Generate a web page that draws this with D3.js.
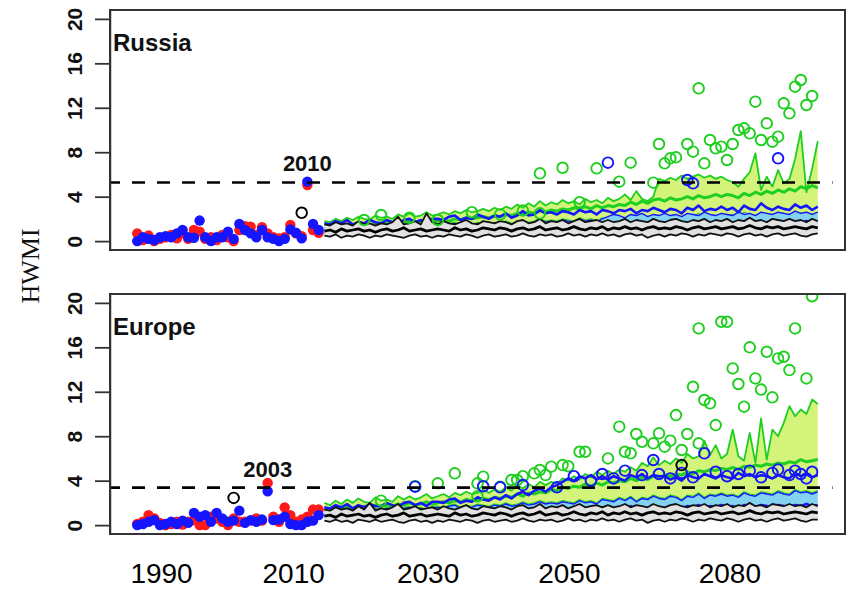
<!DOCTYPE html>
<html>
<head>
<meta charset="utf-8">
<script src="https://cdn.jsdelivr.net/npm/d3@7"></script>
<style>
  body { margin: 0; background: #fff; }
  text { font-family: "Liberation Sans", Arial, sans-serif; }
  text.ytitle { font-family: "Liberation Serif", "Times New Roman", serif; }
</style>
</head>
<body>
<svg id="chart" width="850" height="589"></svg>
<script>
// ---------------- years ----------------
const obsYears = d3.range(1980, 2013);   // reanalysis period
const projYears = d3.range(2013, 2101);  // model projections

// ---------------- x-axis labels ----------------
const xTickLabels = ["1990", "2010", "2030", "2050", "2080"];
const xTickYears  = [1984.2, 2007.5, 2031.2, 2056.1, 2084.4];
const yTickValues = [0, 4, 8, 12, 16, 20];

// ================= RUSSIA =================
const ruObsRed  = [0.7,0.1,0.5,0,0.2,0.35,0.55,0.25,0.7,0.2,
                   1.0,0.85,0.2,0.35,0.1,0.55,0.35,0,1.0,1.35,
                   1.3,0.55,1.25,0.7,0.35,0.25,0.35,1.45,0.7,0.45,
                   5.05,1.0,0.75];
const ruObsBlue = [0,0.35,0.2,0.1,0.35,0.45,0.35,0.7,1.0,0.35,
                   0.3,1.85,0.35,0,0.35,0.35,0.85,0.2,1.55,1.0,
                   0.7,0.35,1.0,0.35,0.2,0,0.2,1.05,0.75,0.25,
                   5.35,1.55,1.0];
const ruEvent = 5.28;

const ruGrayLo = [0.5,0.4,0.6,0.3,0.5,0.4,0.6,0.5,0.3,0.5,
                  0.4,0.6,0.5,0.4,0.3,0.5,0.6,0.4,0.5,0.3,
                  0.5,0.4,0.6,0.5,0.4,0.6,0.5,0.3,0.5,0.6,
                  0.4,0.5,0.6,0.4,0.5,0.7,0.5,0.4,0.6,0.5,
                  0.6,0.4,0.5,0.7,0.5,0.6,0.4,0.6,0.5,0.7,
                  0.5,0.6,0.4,0.6,0.7,0.5,0.6,0.3,0.5,0.6,
                  0.4,0.6,0.5,0.7,0.6,0.4,0.6,0.5,0.7,0.6,
                  0.5,0.7,0.6,0.4,0.6,0.7,0.5,0.6,0.4,0.6,
                  0.7,0.5,0.6,0.7,0.5,0.4,0.6,0.7];
const ruGrayMed = [0.9,1.0,0.8,1.1,0.9,1.0,1.1,0.9,1.0,0.8,
                   1.0,1.1,0.9,1.0,1.2,0.9,1.0,1.1,0.9,1.0,
                   1.1,1.0,0.9,1.2,1.0,1.1,0.9,1.0,1.2,1.1,
                   1.0,1.2,1.1,0.9,1.1,1.2,1.0,1.1,1.3,1.0,
                   1.1,1.2,1.0,1.1,1.3,1.1,1.0,1.2,1.1,1.3,
                   1.0,1.2,1.1,1.3,1.1,1.2,1.0,1.2,1.3,1.1,
                   1.2,1.1,1.3,1.2,1.0,1.2,1.3,1.1,1.2,1.3,
                   1.1,1.2,1.3,1.1,1.2,1.4,1.2,1.1,1.3,1.2,
                   1.3,1.1,1.2,1.3,1.2,1.1,1.3,1.2];
const ruGrayHi = [1.5,1.4,1.7,1.5,1.6,1.4,1.8,1.5,1.6,1.4,
                  1.6,1.5,1.7,2.2,1.5,1.6,1.8,1.5,2.5,1.7,
                  1.5,1.8,1.6,1.5,1.7,1.9,1.6,1.5,1.8,1.7,
                  1.6,1.8,1.7,1.5,1.8,1.9,1.6,1.7,2.0,1.6,
                  1.8,1.7,1.9,1.6,1.8,2.0,1.7,1.8,1.9,1.7,
                  1.9,1.7,1.8,2.0,1.7,1.9,1.8,1.7,2.0,1.8,
                  1.7,1.9,2.0,1.8,1.7,1.9,1.8,2.0,1.7,1.9,
                  1.8,2.0,1.7,1.9,1.8,2.1,1.8,1.9,1.7,2.0,
                  1.9,1.8,2.0,1.8,1.9,1.7,2.0,1.8];
const ruBlueLo = [0.8,0.7,0.9,0.8,1.0,0.7,0.9,0.8,1.0,0.9,
                  0.8,1.0,0.9,0.8,1.0,1.1,0.9,1.0,0.8,1.0,
                  1.1,0.9,1.0,1.2,1.0,1.1,0.9,1.2,1.1,1.0,
                  1.2,1.1,1.3,1.0,1.2,1.3,1.1,1.2,1.4,1.2,
                  1.3,1.2,1.4,1.3,1.2,1.5,1.3,1.4,1.2,1.5,
                  1.4,1.3,1.5,1.4,1.6,1.3,1.5,1.4,1.6,1.5,
                  1.4,1.6,1.5,1.3,1.6,1.5,1.7,1.4,1.6,1.5,
                  1.7,1.5,1.6,1.4,1.7,1.6,1.5,1.7,1.6,1.5,
                  1.7,1.6,1.5,1.7,1.6,1.8,1.6,1.7];
const ruBlueMed = [1.1,1.0,1.2,1.1,1.3,1.0,1.2,1.1,1.3,1.2,
                   1.1,1.3,1.2,1.1,1.3,1.4,1.2,1.3,1.1,1.4,
                   1.4,1.3,1.5,1.6,1.3,1.5,1.4,1.6,1.5,1.4,
                   1.6,1.5,1.7,1.5,1.6,1.8,1.6,1.7,1.9,1.7,
                   1.8,1.7,1.9,1.8,1.7,2.0,1.8,1.9,1.7,2.0,
                   2.2,2.4,2.3,2.1,2.4,2.3,2.5,2.2,2.4,2.3,
                   2.5,2.3,2.4,2.2,2.5,2.4,2.3,2.6,2.4,2.3,
                   2.5,2.4,2.3,2.6,2.4,2.5,2.3,2.6,2.5,2.4,
                   2.6,2.5,2.4,2.7,2.5,2.6,2.4,2.6];
const ruBlueHi = [1.6,1.5,1.8,1.6,1.9,1.5,1.7,1.6,1.9,1.7,
                  1.6,1.9,1.7,1.6,1.9,2.0,1.7,1.9,1.6,2.0,
                  2.0,1.9,2.2,2.3,1.9,2.1,2.0,2.4,2.2,2.0,
                  2.3,2.2,2.5,2.1,2.3,2.7,2.3,2.4,2.8,2.5,
                  2.6,2.4,2.7,2.6,2.4,2.8,2.6,2.7,2.4,2.8,
                  2.7,2.5,2.8,2.7,2.9,2.5,2.8,2.7,3.0,2.8,
                  2.6,2.9,2.8,2.5,3.0,2.8,3.2,2.7,2.9,2.8,
                  3.1,2.8,3.0,2.6,3.2,2.9,2.8,3.4,3.0,2.8,
                  3.1,2.9,2.8,3.3,3.0,3.2,2.8,3.1];
const ruGreenLo = [1.2,1.1,1.3,1.2,1.4,1.1,1.3,1.2,1.4,1.3,
                   1.2,1.4,1.3,1.2,1.4,1.5,1.3,1.4,1.2,1.5,
                   1.5,1.4,1.6,1.7,1.4,1.6,1.5,1.7,1.6,1.5,
                   1.7,1.6,1.8,1.6,1.7,1.9,1.7,1.8,2.0,1.8,
                   1.9,1.8,2.0,1.9,1.8,2.1,1.9,2.0,1.8,2.1,
                   2.0,1.9,2.1,2.0,2.2,1.9,2.1,2.0,2.3,2.2,
                   2.1,2.3,2.2,2.0,2.4,2.2,2.5,2.1,2.3,2.2,
                   2.5,2.3,2.4,2.1,2.6,2.4,2.3,2.6,2.5,2.3,
                   2.6,2.5,2.3,2.7,2.5,2.6,2.4,2.6];
const ruGreenMed = [1.3,1.2,1.4,1.3,1.5,1.3,1.4,1.5,1.4,1.6,
                    1.5,1.6,1.5,1.7,1.6,1.8,1.6,1.7,1.9,1.7,
                    1.8,1.9,1.8,2.0,1.9,2.1,2.0,2.1,2.2,2.1,
                    2.3,2.2,2.4,2.3,2.5,2.4,2.6,2.5,2.7,2.6,
                    2.8,2.7,2.9,2.8,3.0,2.9,3.1,2.9,3.2,3.0,
                    3.2,3.1,3.3,3.2,3.5,3.3,3.6,3.4,3.7,3.8,
                    3.6,3.9,3.7,3.8,4.0,3.8,4.1,3.9,4.0,4.2,
                    4.0,4.2,4.1,3.9,4.3,4.1,4.4,4.2,4.5,4.3,
                    4.6,4.4,4.7,4.5,4.9,4.7,5.0,4.8];
const ruGreenHi = [1.8,1.7,2.0,1.8,2.1,1.9,2.2,2.0,1.9,2.3,
                   2.1,2.2,2.0,2.4,2.2,2.5,2.2,2.3,2.6,2.3,
                   2.4,2.6,2.4,2.7,2.5,2.8,2.6,2.7,2.9,2.7,
                   3.0,2.8,3.1,2.9,3.3,3.0,3.4,3.1,3.6,3.2,
                   3.5,3.3,3.7,3.4,3.6,3.3,3.8,3.5,3.7,3.4,
                   3.9,3.6,3.8,4.2,3.7,4.5,3.8,3.6,4.0,5.6,
                   5.4,5.7,5.5,5.9,5.6,5.8,6.0,5.7,5.9,5.6,
                   5.8,5.5,5.3,4.9,5.6,6.2,7.9,4.6,5.8,4.9,
                   6.4,5.2,5.6,7.4,9.9,4.4,6.5,9.0];

const ruGreenCircles = [[2020,1.9],[2023,2.35],[2028,2.1],[2033,1.9],[2039,2.6],[2044,2.4],
  [2048,2.75],[2051,2.5],[2051,6.1],[2055,6.6],[2058,3.5],[2061,6.55],[2065,5.35],[2067,7.06],
  [2071,5.26],[2072,8.74],[2073,7.0],[2074,7.45],[2075,7.54],[2077,8.74],[2078,8.05],[2079,13.75],
  [2080,7.0],[2081,9.1],[2082,8.35],[2083,8.5],[2084,7.3],[2085,8.74],[2086,10.0],[2087,10.15],
  [2088,9.7],[2089,12.55],[2090,9.1],[2091,10.6],[2092,8.95],[2093,9.4],[2094,12.4],[2095,11.5],
  [2096,13.9],[2097,14.5],[2098,12.25],[2099,13.06]];
const ruBlueCircles = [[2063,7.06],[2077,5.5],[2078,5.2],[2093,7.45]];
const ruBlackCircles = [[2009,2.55]];

// ================= EUROPE =================
const euObsRed  = [0.1,0.3,0.9,0.6,0.2,0,0.1,0.3,0.05,0.3,
                   0.45,0,0,0.75,0.6,0.3,0,0.6,0.3,0.3,
                   0.4,0.6,0.4,3.8,0.75,0.3,1.6,0.9,0.3,0.5,
                   0.75,1.4,1.4];
const euObsBlue = [0,0.1,0.3,0.45,0,0.1,0.3,0.1,0.4,0.2,
                   1.1,0.75,0.9,0.3,1.1,0.6,0.3,0.4,1.3,0.2,
                   0.45,0.3,0.5,3.05,0.45,0.5,0.75,0.1,0,0,
                   0.3,0.4,0.9];
const euEvent = 3.37;

const euGrayLo = [0.4,0.3,0.5,0.3,0.4,0.2,0.5,0.4,0.3,0.5,
                  0.3,0.4,0.5,0.3,0.2,0.4,0.5,0.3,0.4,0.2,
                  0.4,0.3,0.5,0.4,0.3,0.5,0.4,0.2,0.4,0.5,
                  0.3,0.4,0.5,0.3,0.4,0.6,0.4,0.3,0.5,0.4,
                  0.5,0.3,0.4,0.6,0.4,0.5,0.3,0.5,0.4,0.6,
                  0.4,0.5,0.3,0.5,0.6,0.4,0.5,0.2,0.4,0.5,
                  0.3,0.5,0.4,0.6,0.5,0.3,0.5,0.4,0.6,0.5,
                  0.4,0.6,0.5,0.3,0.5,0.6,0.4,0.5,0.3,0.5,
                  0.6,0.4,0.5,0.6,0.4,0.3,0.5,0.5];
const euGrayMed = [0.8,0.9,0.7,1.0,0.8,0.9,1.0,0.8,0.9,0.7,
                   0.9,1.0,0.8,0.9,1.1,0.8,0.9,1.0,0.8,0.9,
                   1.0,0.9,0.8,1.1,0.9,1.0,0.8,0.9,1.1,1.0,
                   0.9,1.1,1.0,0.8,1.0,1.1,0.9,1.0,1.2,0.9,
                   1.0,1.1,0.9,1.0,1.2,1.0,0.9,1.1,1.0,1.2,
                   0.9,1.1,1.0,1.2,1.0,1.1,0.9,1.1,1.2,1.0,
                   1.1,1.0,1.2,1.1,0.9,1.1,1.2,1.0,1.1,1.2,
                   1.0,1.1,1.2,1.0,1.1,1.3,1.1,1.0,1.2,1.1,
                   1.2,1.0,1.1,1.2,1.1,1.0,1.2,1.1];
const euGrayHi = [1.4,1.3,1.6,1.4,1.5,1.3,1.7,1.4,2.0,1.3,
                  1.5,1.4,1.6,1.9,1.4,1.5,1.7,1.4,1.5,1.6,
                  1.4,1.7,1.5,1.4,1.6,1.8,1.5,1.4,1.7,1.6,
                  1.5,1.7,1.6,1.4,1.7,1.8,1.5,1.6,1.9,1.5,
                  1.7,1.6,1.8,1.5,1.7,1.9,1.6,1.7,1.8,1.6,
                  1.8,1.6,1.7,1.9,1.6,1.8,1.7,1.6,1.9,1.7,
                  1.6,1.8,1.9,1.7,1.6,1.8,1.7,1.9,1.6,1.8,
                  1.7,1.9,1.6,1.8,1.7,2.0,1.7,1.8,1.6,1.9,
                  1.8,1.7,1.9,1.7,1.8,1.6,1.9,1.7];
const euBlueLo = [0.9,0.8,1.0,0.9,1.0,0.8,1.0,0.9,1.1,0.9,
                  0.9,1.1,1.0,0.9,1.1,1.2,1.0,1.1,0.9,1.1,
                  1.2,1.0,1.1,1.3,1.1,1.2,1.0,1.3,1.2,1.1,
                  1.3,1.2,1.4,1.1,1.3,1.4,1.2,1.3,1.5,1.3,
                  1.4,1.3,1.5,1.4,1.3,1.6,1.4,1.5,1.3,1.6,
                  1.5,1.4,1.6,1.5,1.7,1.4,1.6,1.5,1.7,1.6,
                  1.5,1.7,1.6,1.4,1.7,1.6,1.8,1.5,1.7,1.6,
                  1.8,1.6,1.7,1.5,1.8,1.7,1.6,1.8,1.7,1.6,
                  1.8,1.7,1.6,1.8,1.7,1.9,1.7,1.8];
const euBlueMed = [1.3,1.2,1.4,1.3,1.5,1.2,1.4,1.3,1.5,1.4,
                   1.3,1.5,1.4,1.3,1.5,1.6,1.4,1.5,1.3,1.6,
                   1.6,1.5,1.7,1.8,1.5,1.7,1.6,1.8,1.7,1.6,
                   1.8,1.7,1.9,1.7,1.8,2.0,1.8,1.9,2.1,1.9,
                   2.0,1.9,2.1,2.0,1.9,2.2,2.0,2.1,1.9,2.3,
                   2.2,2.1,2.4,2.2,2.5,2.1,2.4,2.3,2.6,2.4,
                   2.3,2.6,2.5,2.2,2.6,2.5,2.8,2.4,2.7,2.6,
                   2.8,2.6,2.7,2.5,2.9,2.7,2.6,2.9,2.8,2.7,
                   3.0,2.8,2.7,3.1,2.9,3.0,2.8,3.0];
const euBlueHi = [1.6,1.5,1.8,1.6,1.9,1.5,1.8,1.6,1.9,1.7,
                  1.7,2.0,1.8,1.6,2.0,2.1,1.8,2.0,1.7,2.1,
                  2.1,2.0,2.3,2.4,2.0,2.2,2.1,2.5,2.3,2.2,
                  2.5,2.3,2.7,2.4,2.8,3.0,2.7,3.1,3.3,3.0,
                  3.4,3.6,3.9,4.2,4.0,4.4,4.2,4.5,4.1,4.4,
                  4.1,4.4,4.2,4.0,4.5,4.3,4.6,4.2,4.5,4.4,
                  4.4,4.1,4.3,4.0,4.5,4.3,4.2,4.6,4.4,4.2,
                  4.5,4.3,4.2,4.7,4.4,4.6,4.3,4.5,4.4,4.2,
                  4.5,4.3,4.2,4.7,4.4,4.6,4.3,4.5];
const euGreenLo = [1.4,1.3,1.5,1.4,1.6,1.3,1.5,1.4,1.6,1.5,
                   1.4,1.6,1.5,1.4,1.6,1.7,1.5,1.6,1.4,1.7,
                   1.7,1.6,1.8,1.9,1.6,1.8,1.7,1.9,1.8,1.7,
                   1.9,1.8,2.0,1.8,1.9,2.1,1.9,2.0,2.2,2.0,
                   2.1,2.0,2.2,2.1,2.0,2.3,2.1,2.2,2.0,2.4,
                   2.3,2.2,2.5,2.3,2.6,2.2,2.5,2.4,2.7,2.5,
                   2.4,2.7,2.6,2.3,2.7,2.6,2.9,2.5,2.8,2.7,
                   2.9,2.7,2.8,2.6,3.0,2.8,2.7,3.0,2.9,2.8,
                   3.1,2.9,2.8,3.2,3.0,3.1,2.9,3.1];
const euGreenMed = [1.5,1.4,1.6,1.5,1.7,1.5,1.6,1.7,1.6,1.8,
                    1.7,1.8,1.7,1.9,1.8,2.0,1.8,1.9,2.1,1.9,
                    2.0,2.1,2.0,2.2,2.1,2.3,2.2,2.3,2.4,2.3,
                    2.5,2.4,2.6,2.5,2.8,2.6,2.9,2.8,3.0,2.9,
                    3.2,3.1,3.4,3.3,3.5,3.4,3.7,3.5,3.8,3.6,
                    3.9,3.8,4.0,3.9,4.2,4.0,4.3,4.1,4.4,4.3,
                    4.5,4.4,4.6,4.5,4.8,4.6,4.9,4.8,5.0,4.9,
                    5.1,5.0,5.2,5.0,5.3,5.2,5.4,5.3,5.5,5.4,
                    5.6,5.5,5.7,5.6,5.9,5.7,5.8,5.9];
const euGreenHi = [2.0,1.8,2.2,1.9,2.3,2.0,2.4,2.1,2.0,2.5,
                   2.2,2.3,2.1,2.6,2.3,2.6,2.3,2.5,2.8,2.4,
                   2.6,2.8,2.5,2.9,2.7,3.0,2.8,2.9,3.2,2.9,
                   3.2,3.0,3.4,3.1,3.6,3.3,3.7,3.4,3.9,3.6,
                   3.9,3.7,4.2,4.0,4.4,4.1,4.6,4.3,4.8,4.5,
                   4.9,4.6,5.0,4.8,5.2,4.9,5.6,5.3,6.1,5.4,
                   5.8,5.5,6.0,5.6,6.4,6.0,6.2,7.6,6.3,7.2,
                   6.0,6.4,8.6,6.2,5.8,8.3,5.6,9.6,5.9,8.6,
                   8.0,9.2,10.7,9.8,10.4,10.0,11.3,10.9];

const euGreenCircles = [[2023,2.2],[2029,3.5],[2033,3.76],[2036,4.66],[2040,3.76],[2040,2.6],
  [2041,4.36],[2044,3.46],[2046,4.06],[2047,4.06],[2048,4.4],[2050,4.66],[2051,4.96],[2052,4.5],
  [2053,5.26],[2055,5.4],[2056,5.3],[2058,6.6],[2059,6.6],[2063,6.0],[2065,8.86],[2066,6.6],
  [2067,6.46],[2068,8.2],[2069,7.5],[2071,7.36],[2072,8.26],[2073,7.06],[2074,7.6],[2075,9.9],
  [2076,6.76],[2077,8.2],[2078,12.45],[2079,7.36],[2079,17.7],[2080,11.26],[2081,10.96],[2082,9.0],
  [2083,18.3],[2084,18.3],[2085,14.1],[2086,12.7],[2087,10.66],[2088,16.0],[2089,13.2],[2090,12.2],
  [2091,15.6],[2092,11.5],[2093,15.0],[2094,15.15],[2095,13.95],[2096,17.7],[2098,13.2],[2099,20.6]];
const euBlueCircles = [[2029,3.46],[2041,3.5],[2044,3.4],[2048,3.6],[2054,3.4],[2057,4.4],
  [2060,4.0],[2062,4.6],[2064,4.2],[2066,4.9],[2069,4.5],[2071,5.86],[2072,4.6],[2074,4.2],
  [2076,4.7],[2078,4.3],[2080,6.46],[2082,4.8],[2084,4.4],[2086,4.6],[2088,4.9],[2090,4.3],
  [2092,4.7],[2093,5.0],[2095,4.5],[2096,4.9],[2097,4.6],[2098,4.2],[2099,4.8]];
const euBlackCircles = [[1997,2.45],[2076,5.4]];

// ---------------- panel table ----------------
const panels = [
  { name: "Russia", eventLabel: "2010", eventYear: 2010, event: ruEvent,
    obsRed: ruObsRed, obsBlue: ruObsBlue,
    grayLo: ruGrayLo, grayMed: ruGrayMed, grayHi: ruGrayHi,
    blueLo: ruBlueLo, blueMed: ruBlueMed, blueHi: ruBlueHi,
    greenLo: ruGreenLo, greenMed: ruGreenMed, greenHi: ruGreenHi,
    greenCircles: ruGreenCircles, blueCircles: ruBlueCircles, blackCircles: ruBlackCircles,
    top: 10, bottom: 250 },
  { name: "Europe", eventLabel: "2003", eventYear: 2003, event: euEvent,
    obsRed: euObsRed, obsBlue: euObsBlue,
    grayLo: euGrayLo, grayMed: euGrayMed, grayHi: euGrayHi,
    blueLo: euBlueLo, blueMed: euBlueMed, blueHi: euBlueHi,
    greenLo: euGreenLo, greenMed: euGreenMed, greenHi: euGreenHi,
    greenCircles: euGreenCircles, blueCircles: euBlueCircles, blackCircles: euBlackCircles,
    top: 294, bottom: 534 }
];

// ---------------- drawing ----------------
const svg = d3.select("#chart");
const left = 110, right = 845;
const x = d3.scaleLinear().domain([1975.2, 2104.8]).range([left, right]);

const COL = {
  yellow: "#d3f37a", green: "#1fcf1f", lightBlue: "#82d2f0", blue: "#1515ff",
  grayFill: "#e2e2e2", red: "#ff1a1a"
};

panels.forEach((p, i) => {
  const y = d3.scaleLinear().domain([-0.8, 20.8]).range([p.bottom, p.top]);
  const g = svg.append("g");

  const clipId = "clip-" + i;
  svg.append("defs").append("clipPath").attr("id", clipId)
    .append("rect").attr("x", left).attr("y", p.top)
    .attr("width", right - left).attr("height", p.bottom - p.top);
  const plot = g.append("g").attr("clip-path", `url(#${clipId})`);

  const rows = projYears.map((yr, k) => ({ yr, k }));
  const area = (lo, hi) => d3.area()
    .x(d => x(d.yr)).y0(d => y(lo[d.k])).y1(d => y(hi[d.k]));
  const line = arr => d3.line().x(d => x(d.yr)).y(d => y(arr[d.k]));

  const drawLine = (arr, color, w) => plot.append("path").datum(rows)
    .attr("d", line(arr)).attr("fill", "none").attr("stroke", color)
    .attr("stroke-width", w).attr("stroke-linejoin", "round");

  // high-emission band
  plot.append("path").datum(rows).attr("d", area(p.greenLo, p.greenHi)).attr("fill", COL.yellow);
  drawLine(p.greenLo, COL.green, 1.2);
  drawLine(p.greenHi, COL.green, 1.8);
  drawLine(p.greenMed, COL.green, 3);

  // intermediate band
  plot.append("path").datum(rows).attr("d", area(p.blueLo, p.blueMed)).attr("fill", COL.lightBlue);
  drawLine(p.blueHi, COL.blue, 2.6);
  drawLine(p.blueMed, COL.blue, 1.4);
  drawLine(p.blueLo, COL.blue, 2.8);

  // low-emission band
  plot.append("path").datum(rows).attr("d", area(p.grayLo, p.grayHi)).attr("fill", COL.grayFill);
  drawLine(p.grayLo, "#111", 1.8);
  drawLine(p.grayHi, "#111", 1.8);
  drawLine(p.grayMed, "#000", 2.8);

  // reanalysis dots
  plot.append("g").selectAll("circle").data(p.obsRed).join("circle")
    .attr("cx", (d, k) => x(obsYears[k])).attr("cy", d => y(d)).attr("r", 5.2).attr("fill", COL.red);
  plot.append("g").selectAll("circle").data(p.obsBlue).join("circle")
    .attr("cx", (d, k) => x(obsYears[k])).attr("cy", d => y(d)).attr("r", 5.2).attr("fill", COL.blue);

  // single-member extremes
  const rings = (data, color) => plot.append("g").selectAll("circle").data(data).join("circle")
    .attr("cx", d => x(d[0])).attr("cy", d => y(d[1])).attr("r", 5.3)
    .attr("fill", "none").attr("stroke", color).attr("stroke-width", 1.9);
  rings(p.greenCircles, COL.green);
  rings(p.blueCircles, COL.blue);
  rings(p.blackCircles, "#000");

  // reference event level
  g.append("line")
    .attr("x1", x(1975.2)).attr("x2", x(2102.6))
    .attr("y1", y(p.event)).attr("y2", y(p.event))
    .attr("stroke", "#000").attr("stroke-width", 2.6)
    .attr("stroke-dasharray", "13,12").attr("stroke-dashoffset", 3);

  // event annotation
  g.append("text").attr("x", x(p.eventYear)).attr("y", y(p.event) - 11)
    .attr("text-anchor", "middle").attr("font-size", 22).attr("font-weight", "bold")
    .attr("fill", "#111").text(p.eventLabel);

  // panel title
  g.append("text").attr("x", left + 3).attr("y", p.top + 41)
    .attr("font-size", 24).attr("font-weight", "bold").attr("fill", "#111").text(p.name);

  // y axis
  const ax = g.append("g").attr("transform", `translate(${left},0)`)
    .call(d3.axisLeft(y).tickValues(yTickValues).tickSize(15).tickSizeOuter(0));
  ax.select(".domain").attr("stroke", "#333").attr("stroke-width", 1.5);
  ax.selectAll(".tick line").attr("stroke", "#333").attr("stroke-width", 1.8);
  ax.selectAll(".tick text")
    .attr("x", null).attr("dy", null)
    .attr("transform", "translate(-28,0) rotate(-90)")
    .attr("text-anchor", "middle")
    .attr("font-size", 21).attr("font-weight", "bold").attr("fill", "#111");

  // frame
  g.append("rect").attr("x", left).attr("y", p.top)
    .attr("width", right - left).attr("height", p.bottom - p.top)
    .attr("fill", "none").attr("stroke", "#333").attr("stroke-width", 2);

  // x labels under the lower panel
  if (i === panels.length - 1) {
    const xa = g.append("g").attr("transform", `translate(0,${p.bottom})`)
      .call(d3.axisBottom(x).tickValues(xTickYears)
        .tickFormat((d, k) => xTickLabels[k]).tickSize(0).tickPadding(29));
    xa.select(".domain").remove();
    xa.selectAll(".tick text").attr("font-size", 28).attr("fill", "#000");
  }
});

// shared y title
svg.append("text").attr("class", "ytitle")
  .attr("transform", "translate(39,266) rotate(-90)")
  .attr("text-anchor", "middle")
  .attr("font-size", 26).attr("fill", "#111")
  .text("HWMI");
</script>
</body>
</html>
